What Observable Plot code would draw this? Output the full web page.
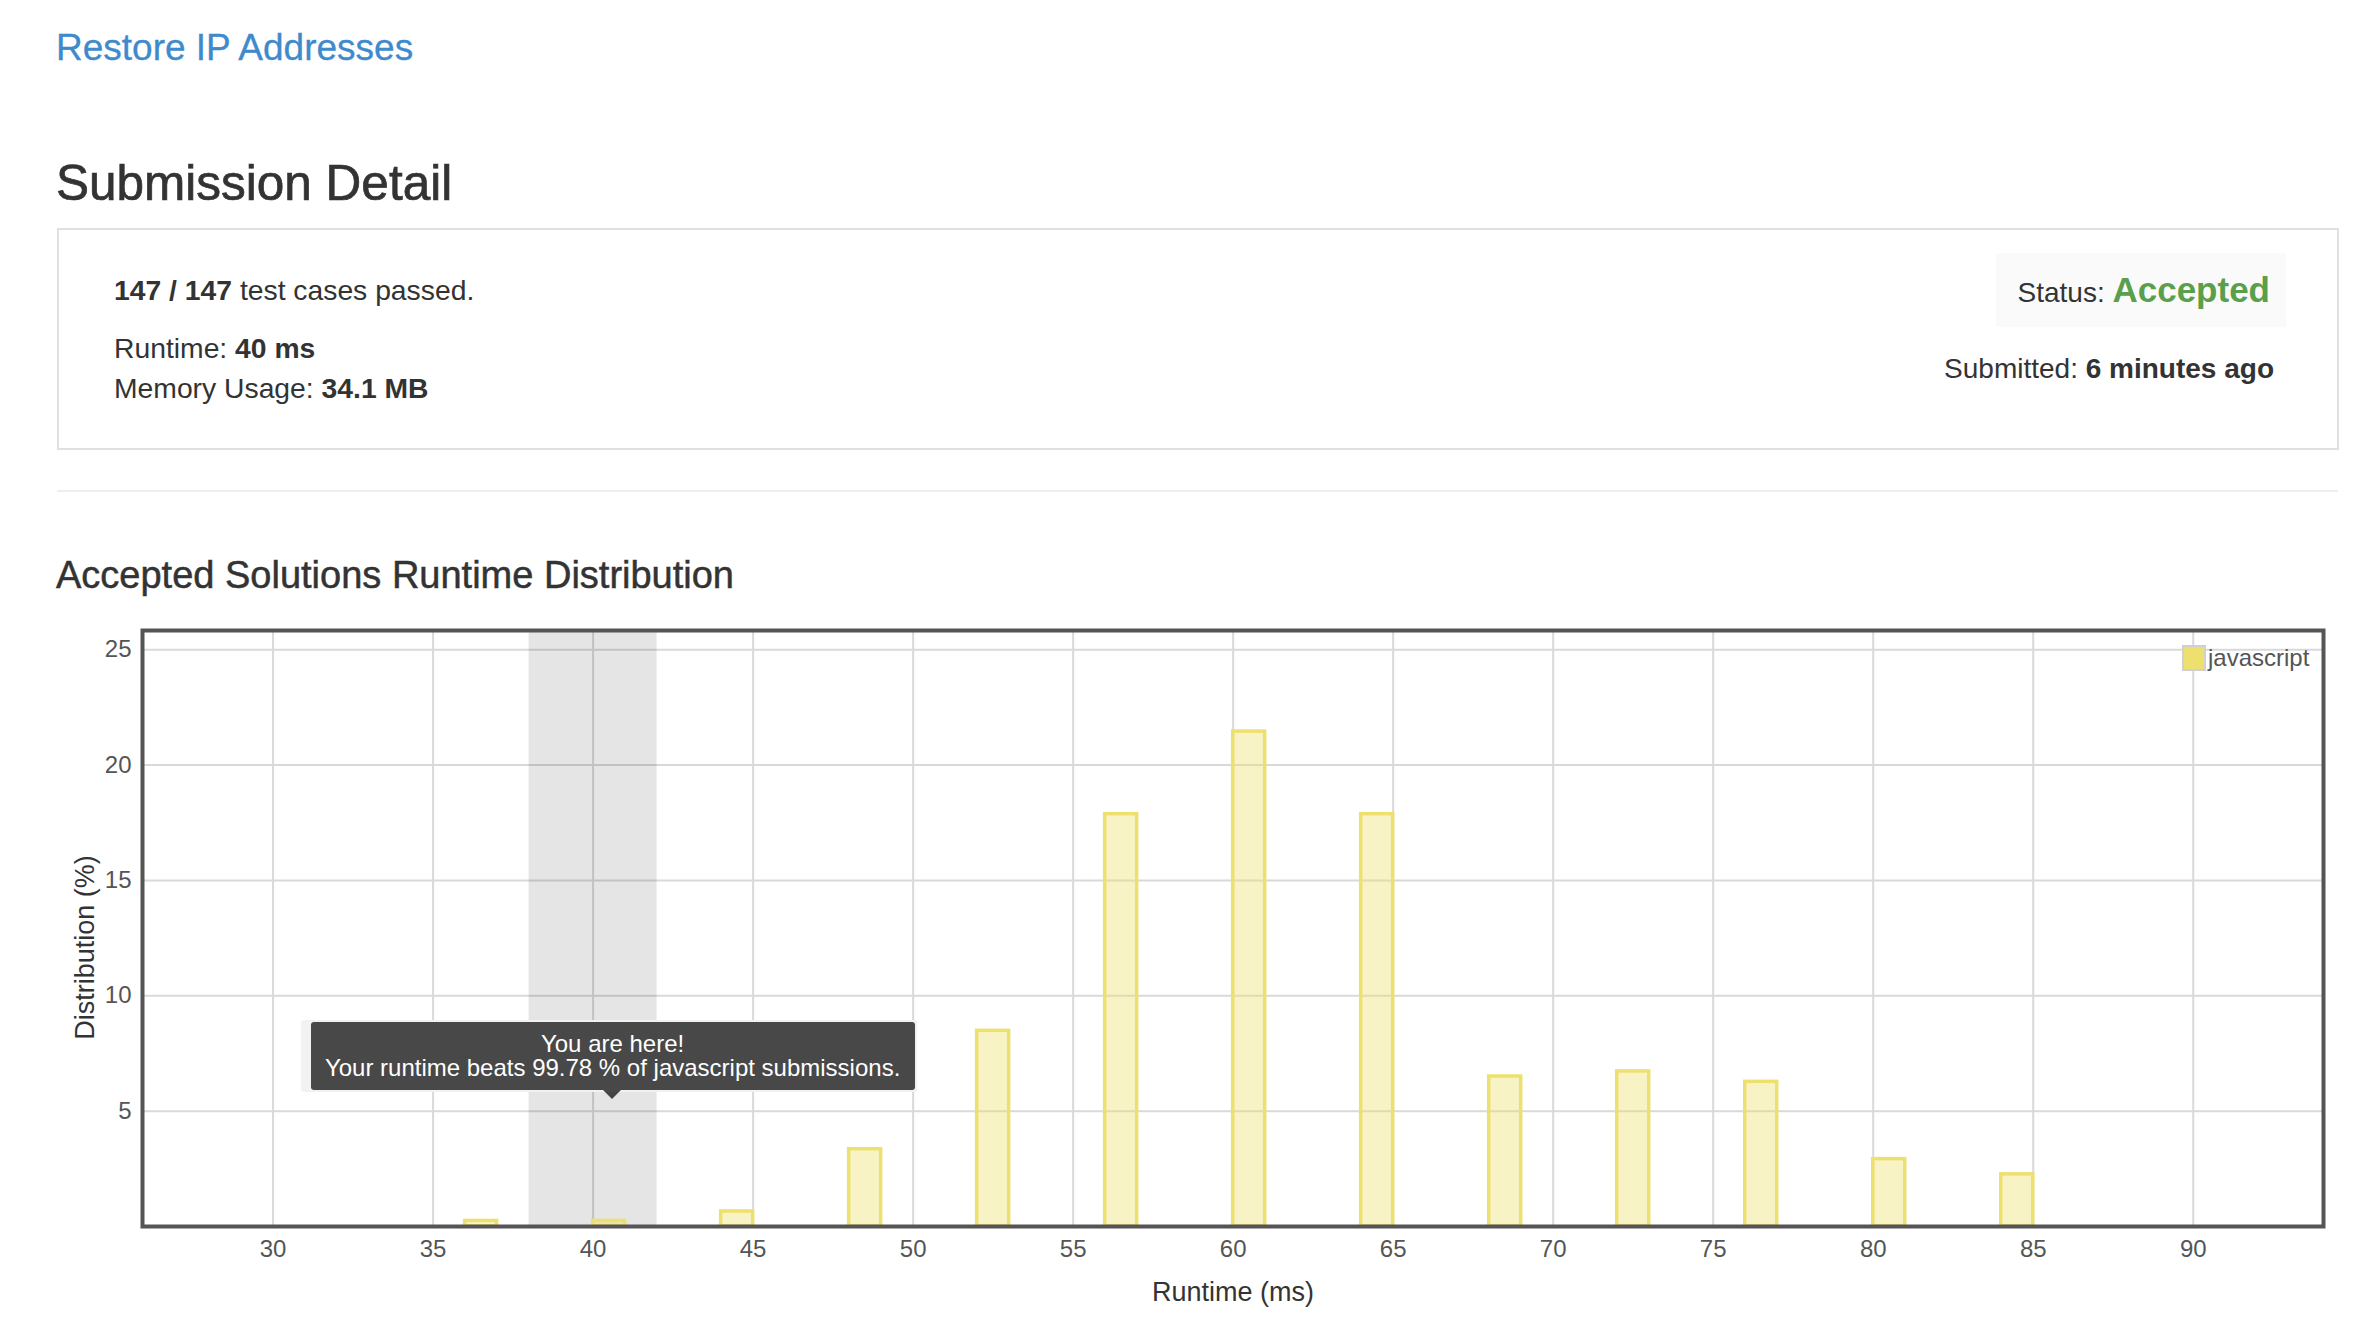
<!DOCTYPE html>
<html>
<head>
<meta charset="utf-8">
<script src="https://cdn.jsdelivr.net/npm/d3@7"></script>
<script src="https://cdn.jsdelivr.net/npm/@observablehq/plot@0.6"></script>
<style>
  html, body { margin: 0; padding: 0; background: #fff; overflow: hidden; }
  #page { position: relative; width: 2354px; height: 1322px; font-family: "Helvetica Neue", Helvetica, "Liberation Sans", Arial, sans-serif; color: #333; }
  .abs { position: absolute; white-space: pre; line-height: 1; }
  .b { font-weight: bold; }
  #chart { position: absolute; left: 0; top: 600px; }
</style>
</head>
<body>
<div id="page">
  <div class="abs" style="left:56px; top:29px; font-size:37px; color:#3e8acc; -webkit-text-stroke:0.3px #3e8acc;">Restore IP Addresses</div>
  <div class="abs" style="left:56px; top:158px; font-size:49.5px; color:#333; -webkit-text-stroke:0.7px #333;">Submission Detail</div>

  <div style="position:absolute; left:57px; top:228px; width:2278px; height:218px; border:2px solid #e0e0e0;"></div>
  <div class="abs" style="left:114px; top:276px; font-size:28.3px;"><span class="b">147 / 147</span> test cases passed.</div>
  <div class="abs" style="left:114px; top:334px; font-size:28.3px;">Runtime: <span class="b">40 ms</span></div>
  <div class="abs" style="left:114px; top:374px; font-size:28.3px;">Memory Usage: <span class="b">34.1 MB</span></div>

  <div style="position:absolute; left:1996px; top:253px; width:290px; height:74px; background:#fafafa;"></div>
  <div style="position:absolute; right:84px; top:272px; display:flex; align-items:baseline; white-space:pre; line-height:1;">
    <span style="font-size:28px;">Status: </span><span class="b" style="font-size:35px; color:#5a9f4c;">Accepted</span>
  </div>
  <div style="position:absolute; right:80px; top:355px; display:flex; align-items:baseline; white-space:pre; line-height:1; font-size:28px;">
    <span>Submitted: </span><span class="b">6 minutes ago</span>
  </div>

  <div style="position:absolute; left:57px; top:490px; width:2281px; height:2px; background:#eeeeee;"></div>

  <div class="abs" style="left:56px; top:556px; font-size:38px; color:#333; -webkit-text-stroke:0.5px #333;">Accepted Solutions Runtime Distribution</div>

  <div id="chart"></div>
</div>
<script>
// ---- data ----
const runtimes = [36, 40, 44, 48, 52, 56, 60, 64, 68, 72, 76, 80, 84];
const distribution = [0.24, 0.24, 0.65, 3.35, 8.48, 17.87, 21.45, 17.87, 6.50, 6.72, 6.27, 2.92, 2.26];
const binWidth = 1;
const xTicks = [30, 35, 40, 45, 50, 55, 60, 65, 70, 75, 80, 85, 90];
const yTicks = [5, 10, 15, 20, 25];
const yourRuntime = 40;
const highlightRange = [38, 42];
const seriesName = "javascript";
const tipLines = ["You are here!", "Your runtime beats 99.78 % of javascript submissions."];
const xLabel = "Runtime (ms)";
const yLabel = "Distribution (%)";

const bars = runtimes.map((r, i) => ({start: r, end: r + binWidth, pct: distribution[i]}));
const barColor = "#ede06e";
const font = "'Helvetica Neue', Helvetica, 'Liberation Sans', Arial, sans-serif";

const plot = Plot.plot({
  width: 2354,
  height: 722,
  marginLeft: 142,
  marginRight: 31,
  marginTop: 30,
  marginBottom: 96,
  x: {domain: [25.92, 94.07]},
  y: {domain: [0, 25.83]},
  style: {fontFamily: font, fontSize: "24px", color: "#555", background: "transparent", overflow: "visible"},
  marks: [
    Plot.gridX(xTicks, {stroke: "#d9d9d9", strokeOpacity: 1, strokeWidth: 2}),
    Plot.gridY(yTicks, {stroke: "#d9d9d9", strokeOpacity: 1, strokeWidth: 2}),
    Plot.rect([highlightRange], {x1: d => d[0], x2: d => d[1], fill: "#000", fillOpacity: 0.1}),
    Plot.rectY(bars, {x1: "start", x2: "end", y: "pct", inset: 0, fill: barColor, fillOpacity: 0.4, stroke: barColor, strokeWidth: 3.5}),
    Plot.frame({stroke: "#555", strokeWidth: 4}),
    Plot.axisX(xTicks, {tickSize: 0, tickPadding: 13, fontSize: 24, label: null}),
    Plot.axisY(yTicks, {tickSize: 0, tickPadding: 11, fontSize: 24, label: null}),
    Plot.text([xLabel], {frameAnchor: "bottom", textAnchor: "middle", lineAnchor: "middle", dy: 66, fontSize: 27, fill: "#333"}),
    Plot.text([yLabel], {frameAnchor: "left", textAnchor: "middle", lineAnchor: "middle", dx: -57, dy: 19, rotate: -90, fontSize: 27, fill: "#333"})
  ]
});
const chart = document.getElementById("chart");
chart.appendChild(plot);

// legend (inside top-right of the frame)
const sx = plot.scale("x"), sy = plot.scale("y");
const legend = document.createElement("div");
legend.style.cssText = `position:absolute; left:${sx.apply(94.07) - 141}px; top:45px; display:flex; align-items:center; font-family:${font}; font-size:24px; color:#555; line-height:1;`;
legend.innerHTML = `<span style="display:inline-block; width:20px; height:22px; background:${barColor}; border:2px solid #d0d0d0; margin-right:2px;"></span><span>${seriesName}</span>`;
chart.appendChild(legend);

// tooltip anchored at the bin of your runtime
const ax = sx.apply(yourRuntime + binWidth / 2) + 3;
const ay = sy.apply(0) - 127;
const tip = document.createElement("div");
tip.style.cssText = `position:absolute; left:${ax - 311}px; top:${ay - 79}px; width:616px; height:72px; background:#f2f2f2; border-radius:3px;`;
const inner = document.createElement("div");
inner.style.cssText = `position:absolute; left:10px; top:2px; width:604px; padding:10px 0; background:rgba(0,0,0,0.7); border-radius:3px; color:#fff; text-align:center; font-family:${font}; font-size:24px; line-height:24px;`;
tipLines.forEach(t => { const d = document.createElement("div"); d.textContent = t; d.style.whiteSpace = "pre"; inner.appendChild(d); });
const arrow = document.createElement("div");
arrow.style.cssText = `position:absolute; left:${311 - 9}px; top:70px; width:0; height:0; border-left:9px solid transparent; border-right:9px solid transparent; border-top:9px solid rgba(0,0,0,0.7);`;
tip.appendChild(inner);
tip.appendChild(arrow);
chart.appendChild(tip);
</script>
</body>
</html>
